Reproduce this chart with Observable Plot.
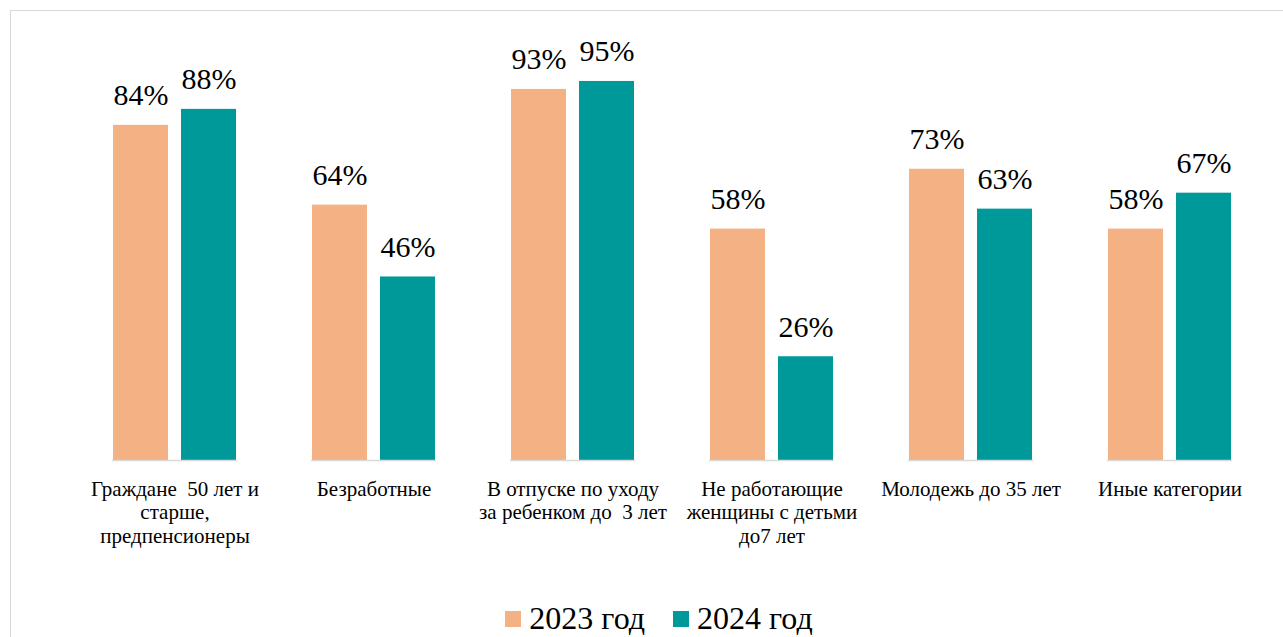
<!DOCTYPE html>
<html>
<head>
<meta charset="utf-8">
<script src="https://cdn.jsdelivr.net/npm/d3@7"></script>
<script src="https://cdn.jsdelivr.net/npm/@observablehq/plot@0.6"></script>
<style>
  html, body { margin: 0; padding: 0; background: #fff; overflow: hidden; }
  #frame { position: absolute; left: 10px; top: 10px; width: 1300px; height: 700px; border: 1px solid #d9d9d9; box-sizing: border-box; }
  #chart { position: absolute; left: 0; top: 0; }
  #chart svg text { white-space: pre; }
  #legend { position: absolute; left: 0; top: 600px; width: 1283px; box-sizing: border-box; padding-left: 35px;
            display: flex; justify-content: center; gap: 28px; font-size: 32px; color: #000; }
  .item { display: flex; align-items: center; gap: 8px; }
  .sw { width: 16px; height: 16px; display: inline-block; }
</style>
</head>
<body style="font-family:'Liberation Serif'">
<div id="frame"></div>
<div id="chart" style="font-family:'Liberation Serif'"></div>
<div id="legend" style="font-family:'Liberation Serif'"></div>
<script>
const categories = [
  "Граждане  50 лет и\nстарше,\nпредпенсионеры",
  "Безработные",
  "В отпуске по уходу\nза ребенком до  3 лет",
  "Не работающие\nженщины с детьми\nдо7 лет",
  "Молодежь до 35 лет",
  "Иные категории"
];
const years = ["2023 год", "2024 год"];
const values2023 = [84, 64, 93, 58, 73, 58];
const values2024 = [88, 46, 95, 26, 63, 67];
const colors = ["#F4B183", "#00999A"];

const data = [];
categories.forEach((c, i) => {
  data.push({category: c, year: years[0], value: values2023[i]});
  data.push({category: c, year: years[1], value: values2024[i]});
});

const serif = "Liberation Serif";

const chart = Plot.plot({
  width: 1283,
  height: 590,
  marginTop: 61,
  marginBottom: 130,
  marginLeft: 75,
  marginRight: 13.5,
  style: "font-family: 'Liberation Serif'; background: transparent; overflow: visible;",
  fx: {domain: categories, paddingInner: 0.372, paddingOuter: 0.186, label: null},
  x: {domain: years, paddingInner: 0.188, paddingOuter: 0, axis: null},
  y: {domain: [0, 100], axis: null},
  color: {domain: years, range: colors},
  marks: [
    Plot.barY(data, {fx: "category", x: "year", y: "value", fill: "year"}),
    Plot.ruleY([0], {stroke: "#d9d9d9", strokeWidth: 1.5}),
    Plot.text(data, {fx: "category", x: "year", y: "value", text: d => d.value + "%",
      lineAnchor: "bottom", dy: -20, fontSize: 30, fill: "#000", fontFamily: serif}),
    Plot.axisFx({anchor: "bottom", tickSize: 0, tickPadding: 18, fontSize: 21, lineHeight: 1.14,
      fill: "#000", label: null, fontFamily: serif})
  ]
});
document.getElementById("chart").appendChild(chart);
chart.querySelectorAll("text, g").forEach(el => {
  el.setAttribute("font-family", serif);
  el.style.setProperty("font-family", "'Liberation Serif'", "important");
});

const legend = document.getElementById("legend");
years.forEach((y, i) => {
  const item = document.createElement("div");
  item.className = "item";
  const sw = document.createElement("span");
  sw.className = "sw";
  sw.style.background = colors[i];
  const t = document.createElement("span");
  t.textContent = y;
  t.style.setProperty("font-family", "'Liberation Serif'", "important");
  item.appendChild(sw);
  item.appendChild(t);
  legend.appendChild(item);
});
</script>
</body>
</html>
